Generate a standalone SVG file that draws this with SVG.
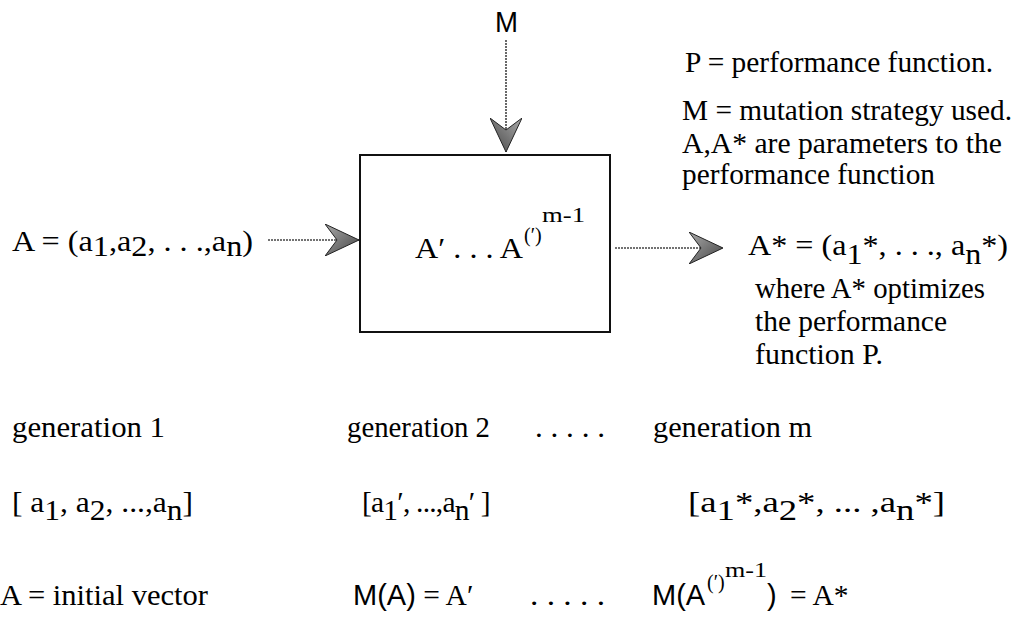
<svg xmlns="http://www.w3.org/2000/svg" width="1018" height="626" viewBox="0 0 1018 626">
<style>
.t{font-family:"Liberation Serif","Times New Roman",serif;font-size:29.5px;fill:#000}
.s{font-family:"Liberation Sans",Arial,sans-serif;font-size:29px;fill:#000}
.sm{font-family:"Liberation Serif","Times New Roman",serif;font-size:20px;fill:#000}
.ln{stroke:#444;stroke-width:1.6;stroke-dasharray:2 1;fill:none}
.box{fill:#fff;stroke:#111;stroke-width:2}
</style>
<defs>
<linearGradient id="g" x1="0" y1="0" x2="1" y2="1">
<stop offset="0" stop-color="#aaa"/><stop offset="1" stop-color="#444"/>
</linearGradient>
<marker id="ah" viewBox="0 0 34 32" refX="34" refY="16" markerWidth="34" markerHeight="32" markerUnits="userSpaceOnUse" orient="auto">
<path d="M0,0 L34,16 L0,32 L12,16 Z" fill="url(#g)" stroke="#222" stroke-width="1"/>
</marker>
</defs>
<g id="connectors">
<line class="ln" x1="506" y1="40" x2="506" y2="152" marker-end="url(#ah)"/>
<line class="ln" x1="268" y1="240" x2="359" y2="240" marker-end="url(#ah)"/>
<line class="ln" x1="615" y1="248" x2="723" y2="248" marker-end="url(#ah)"/>
</g>
<g id="box">
<rect class="box" x="360" y="155" width="250" height="177"/>
<text class="t" x="415" y="258" textLength="108" lengthAdjust="spacingAndGlyphs">A′ . . . A</text>
<text class="sm" x="524" y="242">(′)</text>
<text class="sm" x="542" y="222" textLength="43" lengthAdjust="spacingAndGlyphs">m-1</text>
</g>
<g id="M">
<text class="s" x="495" y="32" textLength="23" lengthAdjust="spacingAndGlyphs">M</text>
</g>
<g id="input">
<text class="t" x="12" y="251" textLength="241" lengthAdjust="spacingAndGlyphs">A = (a<tspan dy="5">1</tspan><tspan dy="-5">,a</tspan><tspan dy="5">2</tspan><tspan dy="-5">, . . .,a</tspan><tspan dy="5">n</tspan><tspan dy="-5">)</tspan></text>
</g>
<g id="output">
<text class="t" x="748" y="255" textLength="260" lengthAdjust="spacingAndGlyphs">A* = (a<tspan dy="9">1</tspan><tspan dy="-9">*, . . ., a</tspan><tspan dy="9">n</tspan><tspan dy="-9">*)</tspan></text>
<text class="t" x="755" y="298" textLength="230" lengthAdjust="spacingAndGlyphs">where A* optimizes</text>
<text class="t" x="755" y="331" textLength="192" lengthAdjust="spacingAndGlyphs">the performance</text>
<text class="t" x="755" y="364" textLength="128" lengthAdjust="spacingAndGlyphs">function P.</text>
</g>
<g id="legend">
<text class="t" x="685" y="72" textLength="308" lengthAdjust="spacingAndGlyphs">P = performance function.</text>
<text class="t" x="682" y="120" textLength="330" lengthAdjust="spacingAndGlyphs">M = mutation strategy used.</text>
<text class="t" x="682" y="153" textLength="320" lengthAdjust="spacingAndGlyphs">A,A* are parameters to the</text>
<text class="t" x="682" y="184" textLength="253" lengthAdjust="spacingAndGlyphs">performance function</text>
</g>
<g id="generations">
<text class="t" x="12" y="437" textLength="153" lengthAdjust="spacingAndGlyphs">generation 1</text>
<text class="t" x="347" y="437" textLength="143" lengthAdjust="spacingAndGlyphs">generation 2</text>
<text class="t" x="535" y="437" textLength="70" lengthAdjust="spacingAndGlyphs">. . . . .</text>
<text class="t" x="653" y="437" textLength="159" lengthAdjust="spacingAndGlyphs">generation m</text>
</g>
<g id="vectors">
<text class="t" x="12" y="512" textLength="181" lengthAdjust="spacingAndGlyphs">[ a<tspan dy="8">1</tspan><tspan dy="-8">, a</tspan><tspan dy="8">2</tspan><tspan dy="-8">, ...,a</tspan><tspan dy="8">n</tspan><tspan dy="-8">]</tspan></text>
<text class="t" x="362" y="512" style="letter-spacing:-0.8px">[a<tspan dy="8">1</tspan><tspan dy="-8">′, ...,a</tspan><tspan dy="8">n</tspan><tspan dy="-8">′ ]</tspan></text>
<text class="t" x="688" y="512" textLength="257" lengthAdjust="spacingAndGlyphs">[a<tspan dy="8">1</tspan><tspan dy="-8">*,a</tspan><tspan dy="8">2</tspan><tspan dy="-8">*, ... ,a</tspan><tspan dy="8">n</tspan><tspan dy="-8">*]</tspan></text>
</g>
<g id="mappings">
<text class="t" x="0" y="605" textLength="208" lengthAdjust="spacingAndGlyphs">A = initial vector</text>
<text x="353" y="605"><tspan class="s">M(A)</tspan><tspan class="t"> = A′</tspan></text>
<text class="t" x="530" y="605" textLength="75" lengthAdjust="spacingAndGlyphs">. . . . .</text>
<text class="s" x="652" y="605">M(A</text>
<text class="sm" x="707" y="589">(′)</text>
<text class="sm" x="725" y="577" textLength="42" lengthAdjust="spacingAndGlyphs">m-1</text>
<text class="s" x="767" y="605">)</text>
<text class="t" x="790" y="605">= A*</text>
</g>
</svg>
